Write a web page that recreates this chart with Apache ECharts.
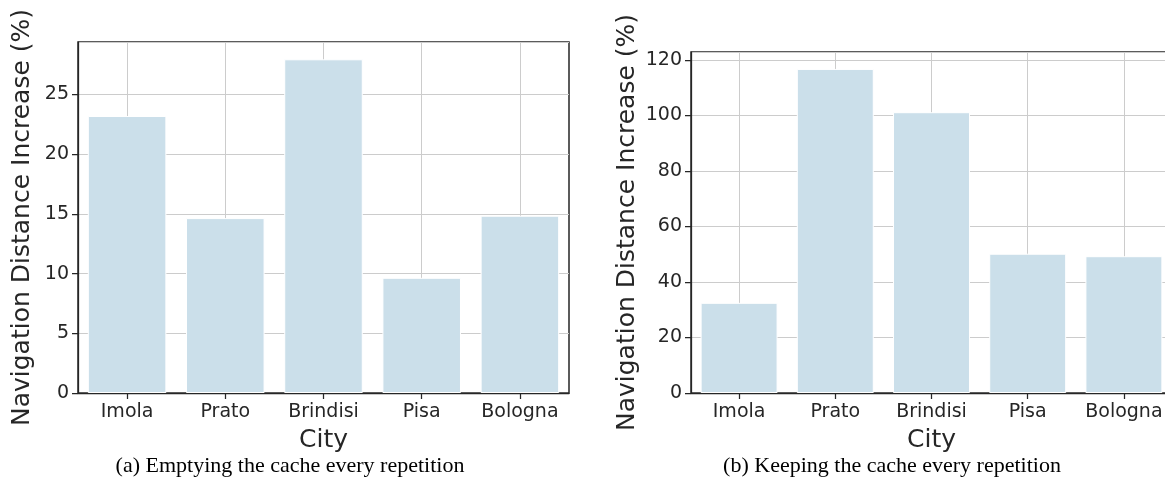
<!DOCTYPE html>
<html>
<head>
<meta charset="utf-8">
<script src="https://cdn.jsdelivr.net/npm/echarts@6/dist/echarts.min.js"></script>
<style>html,body{margin:0;padding:0;background:#fff}#c{width:1165px;height:500px}</style>
</head>
<body>
<div id="c"></div>
<script>
const cities = ['Imola', 'Prato', 'Brindisi', 'Pisa', 'Bologna'];
const emptyingCache = [23.2, 14.65, 27.95, 9.65, 14.85];
const keepingCache = [32.5, 116.8, 101.2, 50.2, 49.3];
const leftTicks = { min: 0, max: 29.4, interval: 5 };
const rightTicks = { min: 0, max: 122.9, interval: 20 };
const yName = 'Navigation Distance Increase (%)';
const xName = 'City';
const captionA = '(a) Emptying the cache every repetition';
const captionB = '(b) Keeping the cache every repetition';

const ink = '#262626';
const font = 'DejaVu Sans';
const barColor = '#cbdfea';
const gridColor = '#cccccc';

// plot boxes
const boxes = [
  { left: 78, top: 42, width: 491, height: 351 },
  { left: 691, top: 52, width: 481, height: 341 }
];

function xAxis(gi) {
  return {
    type: 'category', gridIndex: gi, data: cities,
    name: xName, nameLocation: 'middle', nameGap: 35,
    nameTextStyle: { fontFamily: font, fontSize: 25, color: ink },
    axisLine: { show: true, lineStyle: { color: ink, width: 1.25 } },
    axisTick: { show: false },
    axisLabel: { fontFamily: font, fontSize: 19, color: ink, margin: 10, interval: 0 },
    splitLine: { show: false }
  };
}
// helper axis on a grid spanning first..last category centre: vertical grid lines + ticks
function xCentreAxis(gi) {
  return {
    type: 'value', gridIndex: gi, min: 0, max: cities.length - 1, interval: 1,
    axisLine: { show: false }, axisLabel: { show: false },
    axisTick: { show: true, length: 6, lineStyle: { color: ink, width: 1.25 } },
    splitLine: { show: true, lineStyle: { color: gridColor, width: 1 } }
  };
}
function yAxis(gi, t, gap) {
  return {
    type: 'value', gridIndex: gi, min: t.min, max: t.max, interval: t.interval,
    name: yName, nameLocation: 'middle', nameGap: gap,
    nameTextStyle: { fontFamily: font, fontSize: 25, color: ink },
    axisLine: { show: true, lineStyle: { color: ink, width: 1.25 } },
    axisTick: { show: true, length: 6, lineStyle: { color: ink, width: 1.25 } },
    axisLabel: { fontFamily: font, fontSize: 19, color: ink, margin: 9, showMaxLabel: false },
    splitLine: { show: true, lineStyle: { color: gridColor, width: 1 } }
  };
}
function hiddenY(gi) {
  return { type: 'value', gridIndex: gi, min: 0, max: 1, show: false, splitLine: { show: false } };
}
function bars(gi, data) {
  return {
    type: 'bar', xAxisIndex: gi, yAxisIndex: gi, data: data,
    barCategoryGap: '20%',
    itemStyle: { color: barColor, borderColor: '#ffffff', borderWidth: 1 },
    emphasis: { disabled: true }, silent: true
  };
}
function mainGrid(b) {
  return Object.assign({ show: true, borderColor: ink, borderWidth: 1.5, backgroundColor: 'transparent', outerBoundsMode: 'none', containLabel: false }, b);
}
function centreGrid(b) {
  const band = b.width / cities.length;
  return { left: b.left + band / 2, top: b.top, width: b.width - band, height: b.height, show: false, outerBoundsMode: 'none', containLabel: false };
}

const chart = echarts.init(document.getElementById('c'), null, { renderer: 'canvas' });
chart.setOption({
  animation: false,
  backgroundColor: '#ffffff',
  grid: [mainGrid(boxes[0]), mainGrid(boxes[1]), centreGrid(boxes[0]), centreGrid(boxes[1])],
  xAxis: [xAxis(0), xAxis(1), xCentreAxis(2), xCentreAxis(3)],
  yAxis: [yAxis(0, leftTicks, 43), yAxis(1, rightTicks, 51), hiddenY(2), hiddenY(3)],
  series: [bars(0, emptyingCache), bars(1, keepingCache)],
  graphic: [
    { type: 'text', x: 290, y: 466, style: { text: captionA, font: '22px "Liberation Serif"', fill: '#000', align: 'center', verticalAlign: 'middle' } },
    { type: 'text', x: 892, y: 466, style: { text: captionB, font: '22px "Liberation Serif"', fill: '#000', align: 'center', verticalAlign: 'middle' } }
  ]
});
</script>
</body>
</html>
